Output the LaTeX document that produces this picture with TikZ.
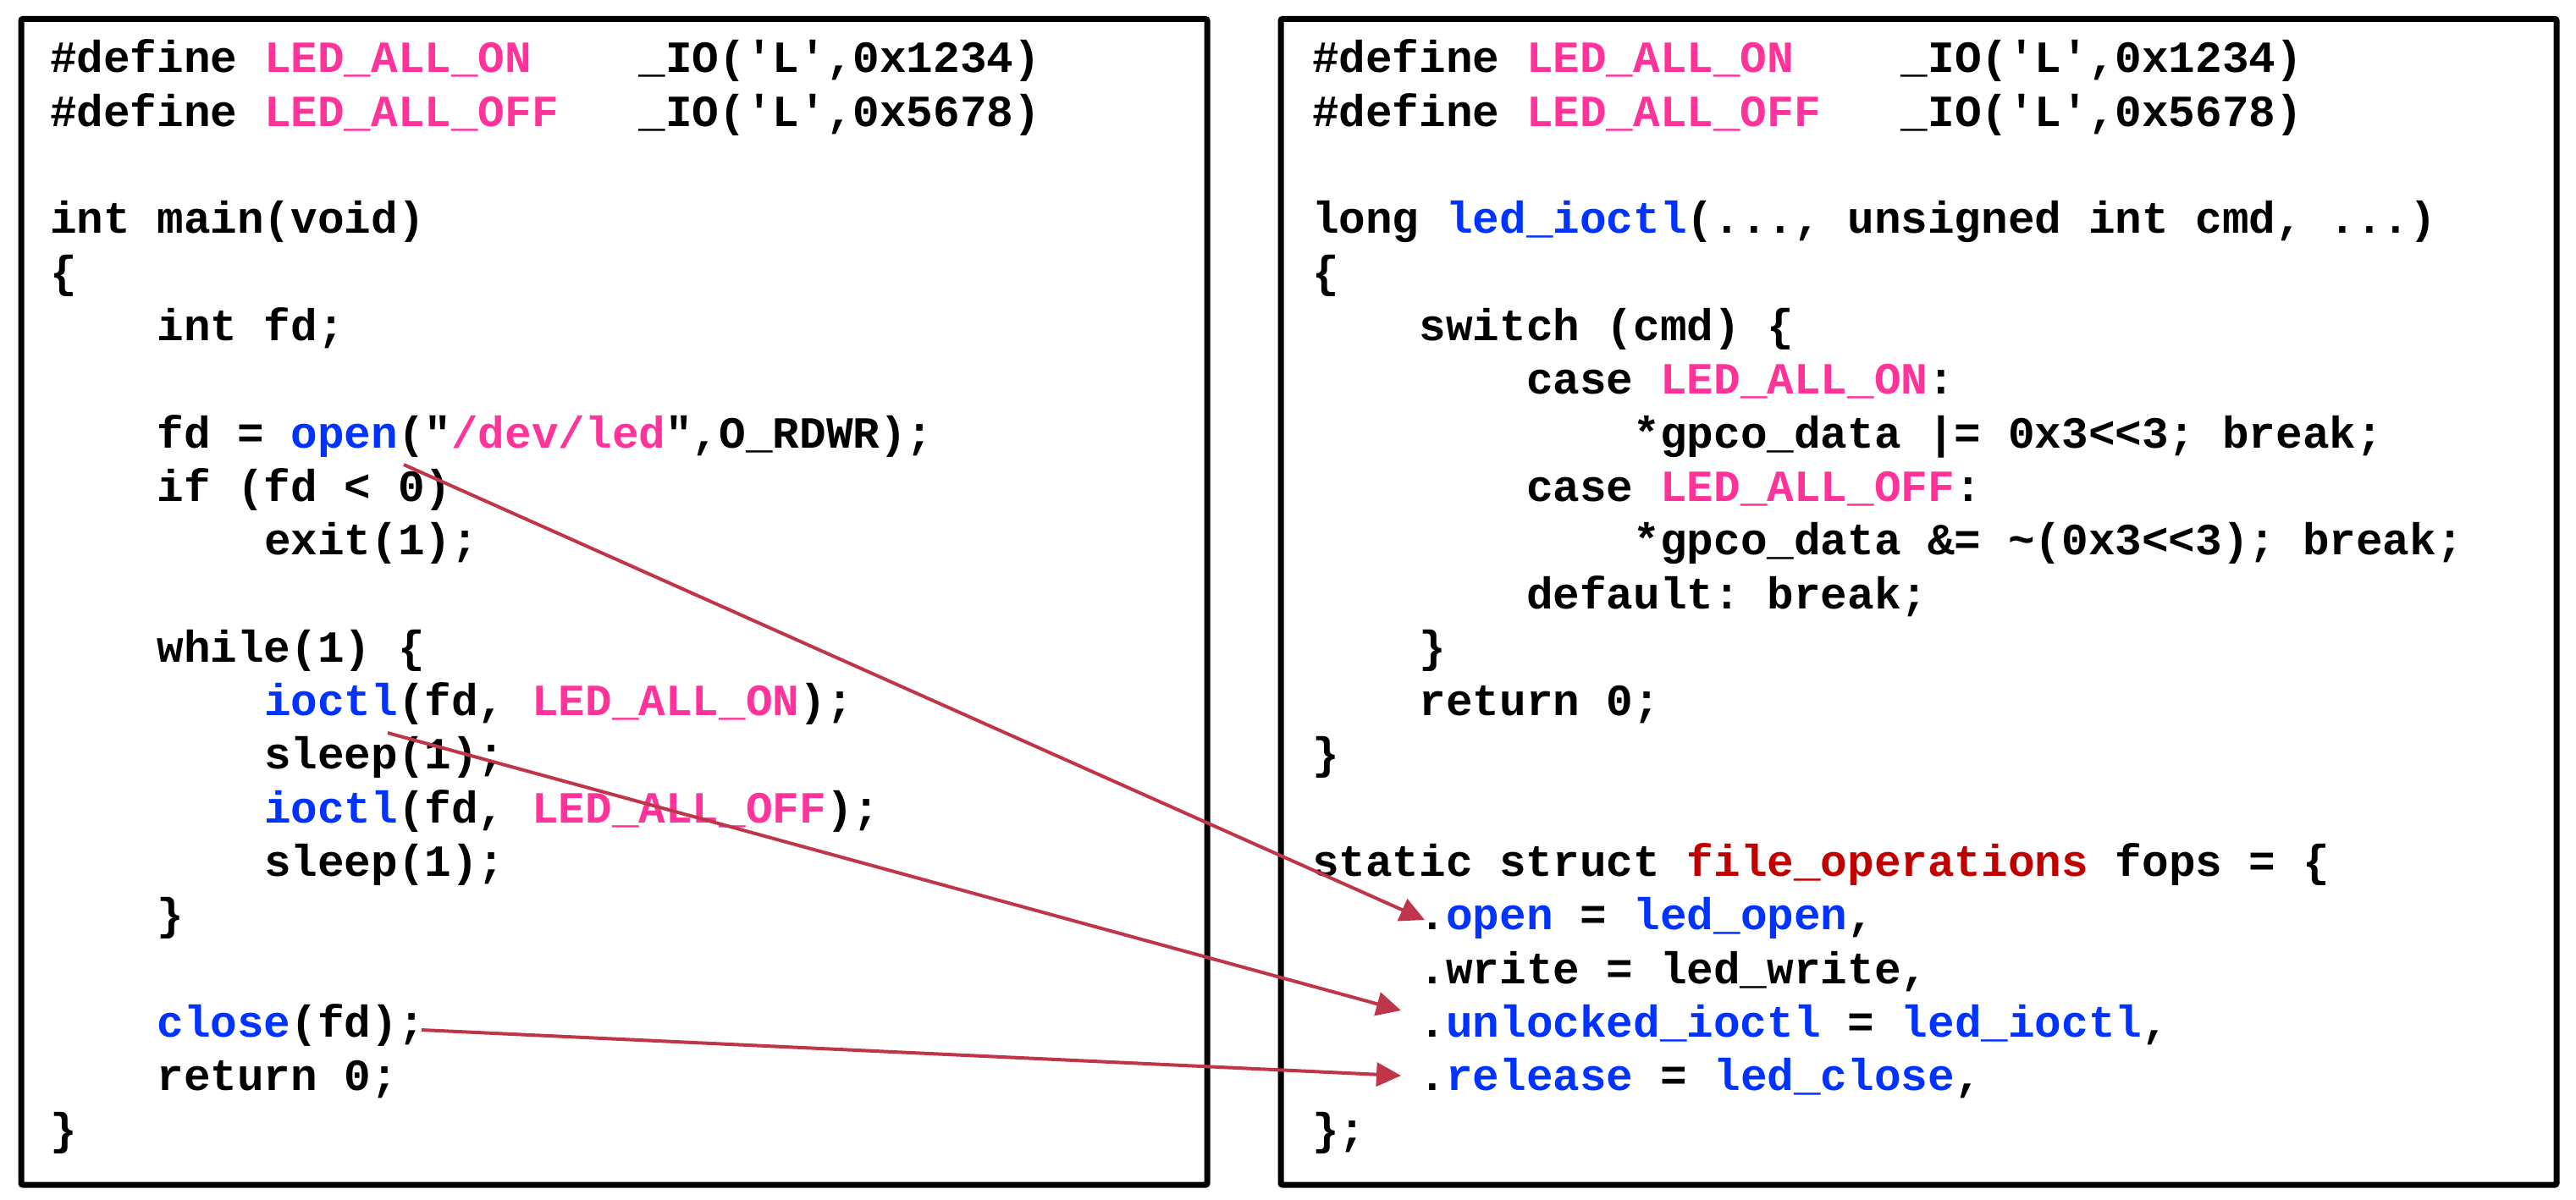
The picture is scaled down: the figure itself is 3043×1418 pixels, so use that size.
\documentclass[tikz,border=0pt]{standalone}
\usepackage{fontspec}
\setmonofont{Liberation Mono}
\usetikzlibrary{arrows.meta}
\definecolor{pk}{RGB}{255,51,153}
\definecolor{bl}{RGB}{0,51,255}
\definecolor{dr}{RGB}{192,0,0}
\definecolor{arr}{RGB}{191,54,74}
\newcommand\pk[1]{\textcolor{pk}{#1}}
\newcommand\bl[1]{\textcolor{bl}{#1}}
\newcommand\dr[1]{\textcolor{dr}{#1}}
\newcommand\codefont{\ttfamily\bfseries\fontsize{52.7}{63.3}\selectfont\frenchspacing}
\newcommand\IV{\ \ \ \ }
\tikzset{
  codeline/.style={anchor=base west, inner sep=0pt, outer sep=0pt, font=\codefont, text=black},
  panel/.style={draw=black, line width=7pt, rounded corners=2pt},
  link/.style={draw=arr, line width=4pt, -{Triangle[length=29pt,width=28pt]}}
}
\begin{document}
\begin{tikzpicture}[x=1pt,y=1pt]
\useasboundingbox (0,0) rectangle (3043,-1418);
\draw[panel] (25,-22.5) rectangle (1426,-1400);
\draw[panel] (1513,-22.5) rectangle (3020,-1400);
% left panel
\def\LX{59}
\node[codeline] (l0) at (\LX,{-86-63.3*0}) {\#define \pk{LED\_ALL\_ON}\ \ \ \ \_IO(\textquotesingle L\textquotesingle,0x1234)};
\node[codeline] (l1) at (\LX,{-86-63.3*1}) {\#define \pk{LED\_ALL\_OFF}\ \ \ \_IO(\textquotesingle L\textquotesingle,0x5678)};
\node[codeline] (l3) at (\LX,{-86-63.3*3}) {int main(void)};
\node[codeline] (l4) at (\LX,{-86-63.3*4}) {\{};
\node[codeline] (l5) at (\LX,{-86-63.3*5}) {\IV int fd;};
\node[codeline] (l7) at (\LX,{-86-63.3*7}) {\IV fd = \bl{open}(\textquotedbl\pk{/dev/led}\textquotedbl,O\_RDWR);};
\node[codeline] (l8) at (\LX,{-86-63.3*8}) {\IV if (fd < 0)};
\node[codeline] (l9) at (\LX,{-86-63.3*9}) {\IV\IV exit(1);};
\node[codeline] (l11) at (\LX,{-86-63.3*11}) {\IV while(1) \{};
\node[codeline] (l12) at (\LX,{-86-63.3*12}) {\IV\IV \bl{ioctl}(fd, \pk{LED\_ALL\_ON});};
\node[codeline] (l13) at (\LX,{-86-63.3*13}) {\IV\IV sleep(1);};
\node[codeline] (l14) at (\LX,{-86-63.3*14}) {\IV\IV \bl{ioctl}(fd, \pk{LED\_ALL\_OFF});};
\node[codeline] (l15) at (\LX,{-86-63.3*15}) {\IV\IV sleep(1);};
\node[codeline] (l16) at (\LX,{-86-63.3*16}) {\IV \}};
\node[codeline] (l18) at (\LX,{-86-63.3*18}) {\IV \bl{close}(fd);};
\node[codeline] (l19) at (\LX,{-86-63.3*19}) {\IV return 0;};
\node[codeline] (l20) at (\LX,{-86-63.3*20}) {\}};
% right panel
\def\RX{1550}
\node[codeline] (r0) at (\RX,{-86-63.3*0}) {\#define \pk{LED\_ALL\_ON}\ \ \ \ \_IO(\textquotesingle L\textquotesingle,0x1234)};
\node[codeline] (r1) at (\RX,{-86-63.3*1}) {\#define \pk{LED\_ALL\_OFF}\ \ \ \_IO(\textquotesingle L\textquotesingle,0x5678)};
\node[codeline] (r3) at (\RX,{-86-63.3*3}) {long \bl{led\_ioctl}(..., unsigned int cmd, ...)};
\node[codeline] (r4) at (\RX,{-86-63.3*4}) {\{};
\node[codeline] (r5) at (\RX,{-86-63.3*5}) {\IV switch (cmd) \{};
\node[codeline] (r6) at (\RX,{-86-63.3*6}) {\IV\IV case \pk{LED\_ALL\_ON}:};
\node[codeline] (r7) at (\RX,{-86-63.3*7}) {\IV\IV\IV *gpco\_data |= 0x3<{}<3; break;};
\node[codeline] (r8) at (\RX,{-86-63.3*8}) {\IV\IV case \pk{LED\_ALL\_OFF}:};
\node[codeline] (r9) at (\RX,{-86-63.3*9}) {\IV\IV\IV *gpco\_data \&= \textasciitilde(0x3<{}<3); break;};
\node[codeline] (r10) at (\RX,{-86-63.3*10}) {\IV\IV default: break;};
\node[codeline] (r11) at (\RX,{-86-63.3*11}) {\IV \}};
\node[codeline] (r12) at (\RX,{-86-63.3*12}) {\IV return 0;};
\node[codeline] (r13) at (\RX,{-86-63.3*13}) {\}};
\node[codeline] (r15) at (\RX,{-86-63.3*15}) {static struct \dr{file\_operations} fops = \{};
\node[codeline] (r16) at (\RX,{-86-63.3*16}) {\IV .\bl{open} = \bl{led\_open},};
\node[codeline] (r17) at (\RX,{-86-63.3*17}) {\IV .write = led\_write,};
\node[codeline] (r18) at (\RX,{-86-63.3*18}) {\IV .\bl{unlocked\_ioctl} = \bl{led\_ioctl},};
\node[codeline] (r19) at (\RX,{-86-63.3*19}) {\IV .\bl{release} = \bl{led\_close},};
\node[codeline] (r20) at (\RX,{-86-63.3*20}) {\};};
% connector end points
\coordinate (s1) at (477,-549);
\coordinate (t1) at (1683,-1087);
\coordinate (s2) at (458,-866);
\coordinate (t2) at (1655,-1194);
\coordinate (s3) at (498,-1217);
\coordinate (t3) at (1655,-1271);
\draw[link] (s1) -- (t1);
\draw[link] (s2) -- (t2);
\draw[link] (s3) -- (t3);
\end{tikzpicture}
\end{document}
